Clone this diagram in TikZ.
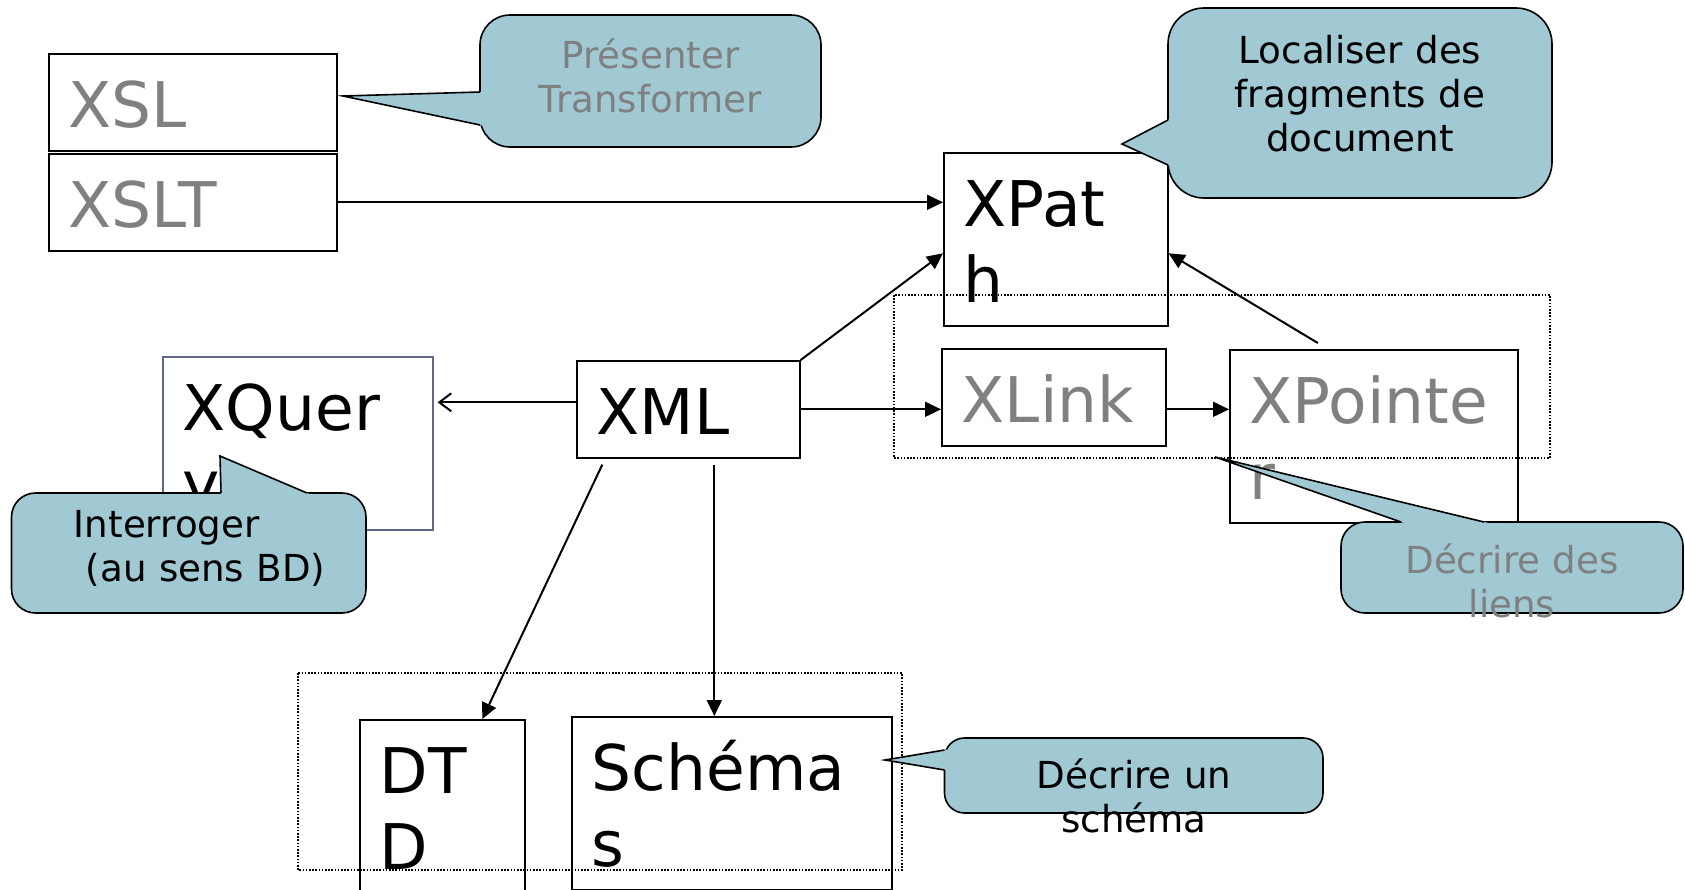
\documentclass[tikz,border=0pt]{standalone}
\usepackage{fontspec}
\setmainfont{DejaVu Sans}
\usetikzlibrary{arrows.meta,calc}
\definecolor{bubblefill}{RGB}{160,201,211}
\definecolor{xqborder}{RGB}{95,105,135}
\newcommand{\boxfont}{\fontsize{31.5pt}{38pt}\selectfont}
\newcommand{\notefont}{\fontsize{18.6pt}{22pt}\selectfont}
\def\pointer(#1)(#2)(#3){\fill[bubblefill] (#2) -- ($(#2)!1.08!(#1)$) -- ($(#2)!1.08!(#3)$) -- cycle; \draw[line width=0.8pt] (#1) -- (#2) -- (#3);}

\tikzset{
  techbox/.style={draw, line width=0.8pt, anchor=north west, align=left, inner xsep=10pt, inner ysep=0pt, text height=37pt, font=\boxfont},
  bubble/.style={draw, fill=bubblefill, line width=0.8pt, rounded corners=#1},
  note/.style={anchor=base, align=center, inner sep=0pt, text width=#1, font=\notefont},
  arr/.style={-{Triangle[length=8pt,width=7.5pt]}, line width=1pt},
  groupline/.style={line width=0.7pt, dash pattern=on 0.8pt off 0.8pt}
}

\begin{document}
\begin{tikzpicture}[x=0.5pt,y=-0.5pt]
		\useasboundingbox (0,0) rectangle (1685,889);
		
		% the languages
		\node[techbox, text=gray, text width=124pt, text depth=11.5pt] (xsl) at (48,53) {XSL};
		\node[techbox, text=gray, text width=124pt, text depth=11.5pt] (xslt) at (48,153) {XSLT};
		\node[techbox, text width=92pt, text depth=49.5pt] (xpath) at (943,152) {XPat\\h};
		\node[techbox, draw=xqborder, text width=115pt, text depth=49.5pt] (xquery) at (162,356) {XQuer\\y};
		\node[techbox, text width=91.5pt, text depth=11.5pt] (xml) at (576,360) {XML};
		\node[techbox, text=gray, text width=92pt, text depth=11.5pt] (xlink) at (941,348) {XLink};
		\node[techbox, text=gray, text width=124pt, text depth=49.5pt] (xpointer) at (1229,349) {XPointe\\r};
		\node[techbox, text width=62.5pt, text depth=49.5pt] (dtd) at (359,719) {DT\\D};
		\node[techbox, text width=140pt, text depth=49.5pt] (schemas) at (571,716) {Schéma\\s};
		
		% dotted groups
		\draw[groupline] (894,295) rectangle (1550,458);
		\draw[groupline] (298,673) rectangle (902,870);
		
		% links
		\draw[arr] (xslt.east) -- (xslt.east -| xpath.west);
		\draw[arr] (xml.north east) -- ([yshift=-7pt]xpath.west);
		\draw[arr] ([xshift=-28pt,yshift=3pt]xpointer.north) -- ([yshift=-7pt]xpath.east);
		\draw[arr] (xml.east) -- (xml.east -| xlink.west);
		\draw[arr] (xml.east -| xlink.east) -- (xml.east -| xpointer.west);
		\coordinate (qin) at ([yshift=3.5pt]xml.west);
		\draw[line width=1pt, -{Straight Barb[length=6pt,width=9pt]}] (qin) -- ($(qin -| xquery.east)+(2pt,0)$);
		\draw[arr] ([xshift=-43pt,yshift=-3pt]xml.south) -- ([xshift=20pt]dtd.north);
		\coordinate (sin) at ([xshift=13pt,yshift=-3pt]xml.south);
		\draw[arr] (sin) -- (sin |- schemas.north);
		
		% callouts
		\draw[bubble=15pt] (480,15) rectangle (821,147);
		\pointer(480,92)(343,96)(480,125)
		\node[note=170pt, text=gray] (present) at (650.5,68) {Présenter\\Transformer};
		
		\draw[bubble=18pt] (1168,8) rectangle (1552,198);
		\pointer(1168,120)(1122,144)(1168,165)
		\node[note=180pt] (locate) at (1360,63) {Localiser des\\fragments de\\document};
		
		\draw[bubble=12pt] (11.5,493) rectangle (366,613);
		\pointer(221,493)(220,456)(307,493)
		\node[note=170pt, align=left, anchor=base west] (query) at (73.5,537) {Interroger\\\hspace*{0.32em}(au sens BD)};
		
		\draw[bubble=12pt] (1341,522) rectangle (1683,613);
		\pointer(1401,522)(1215,457)(1484,522)
		\node[note=170pt, text=gray] (links) at (1512,573) {Décrire des\\liens};
		
		\draw[bubble=10pt] (944.5,738) rectangle (1323,813);
		\pointer(944.5,750)(885,760)(944.5,770)
		\node[note=170pt] (schemanote) at (1134,788) {Décrire un\\schéma};
		
	\end{tikzpicture}
\end{document}
